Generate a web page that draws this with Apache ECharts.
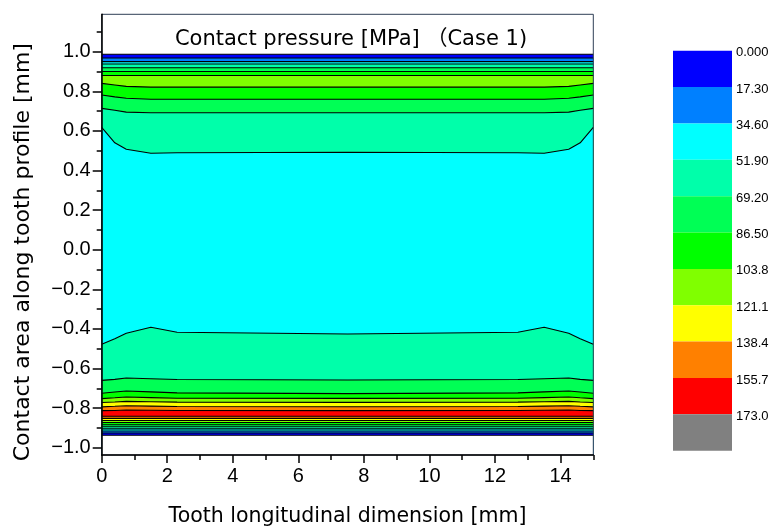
<!DOCTYPE html>
<html><head><meta charset="utf-8">
<script src="https://cdn.jsdelivr.net/npm/echarts@6/dist/echarts.min.js"></script>
<style>html,body{margin:0;padding:0;background:#fff}#c{width:773px;height:528px}</style>
</head><body><div id="c"></div>
<script>
// x sample positions [mm] along tooth length
const xs = [0, 0.4, 0.75, 1.5, 2.3, 7.5, 12.7, 13.5, 14.25, 14.6, 15];

// contour lines (top to bottom), y [mm] at each xs position
const c01 = [0.987, 0.987, 0.987, 0.987, 0.987, 0.987, 0.987, 0.987, 0.987, 0.987, 0.987];
const c02 = [0.968, 0.968, 0.968, 0.968, 0.968, 0.968, 0.968, 0.968, 0.968, 0.968, 0.968];
const c03 = [0.950, 0.950, 0.950, 0.950, 0.950, 0.950, 0.950, 0.950, 0.950, 0.950, 0.950];
const c04 = [0.938, 0.938, 0.938, 0.938, 0.938, 0.938, 0.938, 0.938, 0.938, 0.938, 0.938];
const c05 = [0.919, 0.919, 0.919, 0.919, 0.919, 0.919, 0.919, 0.919, 0.919, 0.919, 0.919];
const c06 = [0.900, 0.900, 0.900, 0.900, 0.900, 0.900, 0.900, 0.900, 0.900, 0.900, 0.900];
const c07 = [0.880, 0.880, 0.880, 0.880, 0.880, 0.880, 0.880, 0.880, 0.880, 0.880, 0.880];
const c08 = [0.840, 0.832, 0.825, 0.821, 0.821, 0.821, 0.821, 0.821, 0.825, 0.832, 0.840];
const c09 = [0.781, 0.772, 0.765, 0.760, 0.760, 0.760, 0.760, 0.760, 0.765, 0.772, 0.781];
const c10 = [0.714, 0.704, 0.695, 0.692, 0.692, 0.692, 0.692, 0.692, 0.695, 0.704, 0.714];
const c11 = [0.618, 0.540, 0.507, 0.487, 0.490, 0.492, 0.490, 0.487, 0.507, 0.540, 0.618];
const c12 = [-0.478, -0.450, -0.422, -0.392, -0.417, -0.426, -0.417, -0.392, -0.422, -0.450, -0.478];
const c13 = [-0.660, -0.655, -0.648, -0.652, -0.656, -0.658, -0.656, -0.652, -0.648, -0.655, -0.660];
const c14 = [-0.725, -0.719, -0.714, -0.718, -0.723, -0.727, -0.723, -0.718, -0.714, -0.719, -0.725];
const c15 = [-0.752, -0.748, -0.744, -0.747, -0.750, -0.751, -0.750, -0.747, -0.744, -0.748, -0.752];
const c16 = [-0.772, -0.769, -0.766, -0.768, -0.770, -0.771, -0.770, -0.768, -0.766, -0.769, -0.772];
const c17 = [-0.794, -0.791, -0.788, -0.790, -0.792, -0.793, -0.792, -0.790, -0.788, -0.791, -0.794];
const c18 = [-0.813, -0.812, -0.810, -0.811, -0.812, -0.813, -0.812, -0.811, -0.810, -0.812, -0.813];
const c19 = [-0.841, -0.841, -0.841, -0.841, -0.841, -0.841, -0.841, -0.841, -0.841, -0.841, -0.841];
const c20 = [-0.852, -0.852, -0.852, -0.852, -0.852, -0.852, -0.852, -0.852, -0.852, -0.852, -0.852];
const c21 = [-0.863, -0.863, -0.863, -0.863, -0.863, -0.863, -0.863, -0.863, -0.863, -0.863, -0.863];
const c22 = [-0.873, -0.873, -0.873, -0.873, -0.873, -0.873, -0.873, -0.873, -0.873, -0.873, -0.873];
const c23 = [-0.884, -0.884, -0.884, -0.884, -0.884, -0.884, -0.884, -0.884, -0.884, -0.884, -0.884];
const c24 = [-0.894, -0.894, -0.894, -0.894, -0.894, -0.894, -0.894, -0.894, -0.894, -0.894, -0.894];
const c25 = [-0.905, -0.905, -0.905, -0.905, -0.905, -0.905, -0.905, -0.905, -0.905, -0.905, -0.905];
const c26 = [-0.916, -0.916, -0.916, -0.916, -0.916, -0.916, -0.916, -0.916, -0.916, -0.916, -0.916];
const c27 = [-0.926, -0.926, -0.926, -0.926, -0.926, -0.926, -0.926, -0.926, -0.926, -0.926, -0.926];
const c28 = [-0.937, -0.937, -0.937, -0.937, -0.937, -0.937, -0.937, -0.937, -0.937, -0.937, -0.937];
const contours = [c01,c02,c03,c04,c05,c06,c07,c08,c09,c10,c11,c12,c13,c14,c15,c16,c17,c18,c19,c20,c21,c22,c23,c24,c25,c26,c27,c28];
// band index (into legend colours) lying just below each contour; -1 = outside contact (white)
const bandBelow = [0,1,2,3,4,5,6,5,4,3,2,3,4,5,6,7,8,9,8,7,6,5,4,3,2,1,0,-1];

// colour scale
const levels = [0, 17.3, 34.6, 51.9, 69.2, 86.5, 103.8, 121.1, 138.4, 155.7, 173.0];
const levelLabels = ['0.000','17.30','34.60','51.90','69.20','86.50','103.8','121.1','138.4','155.7','173.0'];
const scaleTop = 190.3;
const levelColors = ['#0000FF','#0080FF','#00FFFF','#00FFAA','#00FF55','#00FF00','#80FF00','#FFFF00','#FF8000','#FF0000','#808080'];

// axis ticks
const xLabelVals = [0, 2, 4, 6, 8, 10, 12, 14];
const xMinorVals = [1, 3, 5, 7, 9, 11, 13, 15];
const yLabelVals = [-1.0, -0.8, -0.6, -0.4, -0.2, 0.0, 0.2, 0.4, 0.6, 0.8, 1.0];
const yMinorVals = [-0.9, -0.7, -0.5, -0.3, -0.1, 0.1, 0.3, 0.5, 0.7, 0.9, 1.1];

const chart = echarts.init(document.getElementById('c'), null, {renderer: 'canvas'});
const tickFont = {fontFamily: 'Liberation Sans, Arial, sans-serif', fontSize: 20, color: '#000'};
const titleFont = 'DejaVu Sans, Noto Sans CJK JP, sans-serif';

const series = contours.map((ys, i) => ({
  type: 'line',
  xAxisIndex: 0, yAxisIndex: 0,
  data: xs.map((x, j) => [x, ys[j]]),
  symbol: 'none',
  silent: true,
  animation: false,
  z: 2,
  lineStyle: {color: '#000', width: 1.1},
  areaStyle: {origin: 'start', opacity: 1, color: bandBelow[i] < 0 ? '#FFFFFF' : levelColors[bandBelow[i]]}
}));

series.push({
  type: 'custom',
  xAxisIndex: 2, yAxisIndex: 2,
  animation: false,
  data: levels.map((lv, i) => [lv, i + 1 < levels.length ? levels[i + 1] : scaleTop]),
  renderItem: function (params, api) {
    const p0 = api.coord([0, api.value(0)]);
    const p1 = api.coord([1, api.value(1)]);
    return {type: 'rect', shape: {x: p0[0], y: p0[1], width: p1[0] - p0[0], height: p1[1] - p0[1]},
      style: {fill: levelColors[params.dataIndex]}};
  }
});

chart.setOption({
  backgroundColor: '#fff',
  animation: false,
  title: {
    text: 'Contact pressure [MPa] （Case 1)',
    left: 346, top: 24, textAlign: 'center',
    textStyle: {fontFamily: titleFont, fontSize: 21, fontWeight: 'normal', color: '#000'}
  },
  grid: [
    {left: 101.7, top: 14.3, width: 491.6, height: 440.7, show: true, borderColor: '#2f3f55', borderWidth: 1,
     backgroundColor: 'transparent', z: 3, containLabel: false, outerBoundsMode: 'none'},
    {left: 673, top: 50.7, width: 59, height: 400, containLabel: false, outerBoundsMode: 'none'}
  ],
  xAxis: [
    {type: 'value', gridIndex: 0, min: 0, max: 15, position: 'bottom',
     axisLine: {show: true, onZero: false, lineStyle: {color: '#000', width: 1.5}},
     axisTick: {show: true, inside: false, length: 8, customValues: xLabelVals, lineStyle: {color: '#000', width: 1.5}},
     axisLabel: {customValues: xLabelVals, margin: 11, ...tickFont},
     splitLine: {show: false},
     name: 'Tooth longitudinal dimension [mm]', nameLocation: 'middle', nameGap: 51,
     nameTextStyle: {fontFamily: titleFont, fontSize: 20.5, color: '#000'}, z: 5},
    {type: 'value', gridIndex: 0, min: 0, max: 15, position: 'bottom',
     axisLine: {show: false, onZero: false},
     axisTick: {show: true, inside: false, length: 5, customValues: xMinorVals, lineStyle: {color: '#000', width: 1.5}},
     axisLabel: {show: false}, splitLine: {show: false}, z: 5},
    {type: 'value', gridIndex: 1, min: 0, max: 1, show: false}
  ],
  yAxis: [
    {type: 'value', gridIndex: 0, min: -1.037, max: 1.189, position: 'left',
     axisLine: {show: true, onZero: false, lineStyle: {color: '#000', width: 1.5}},
     axisTick: {show: true, inside: false, length: 9, customValues: yLabelVals, lineStyle: {color: '#000', width: 1.5}},
     axisLabel: {customValues: yLabelVals, margin: 11, ...tickFont,
       formatter: v => v.toFixed(1).replace('-', '\u2212')},
     splitLine: {show: false},
     name: 'Contact area along tooth profile [mm]', nameLocation: 'middle', nameGap: 67,
     nameTextStyle: {fontFamily: titleFont, fontSize: 22, color: '#000', padding: [0, 35, 0, 0]}, z: 5},
    {type: 'value', gridIndex: 0, min: -1.037, max: 1.189, position: 'left',
     axisLine: {show: false, onZero: false},
     axisTick: {show: true, inside: false, length: 5, customValues: yMinorVals, lineStyle: {color: '#000', width: 1.5}},
     axisLabel: {show: false}, splitLine: {show: false}, z: 5},
    {type: 'value', gridIndex: 1, min: 0, max: scaleTop, inverse: true, position: 'right',
     axisLine: {show: false}, axisTick: {show: false}, splitLine: {show: false},
     axisLabel: {customValues: levels, margin: 4, fontFamily: 'Liberation Sans, Arial, sans-serif', fontSize: 13, color: '#000',
       verticalAlign: 'top', lineHeight: 4,
       formatter: v => levelLabels[levels.indexOf(v)]}}
  ],
  series: series
});
</script></body></html>
